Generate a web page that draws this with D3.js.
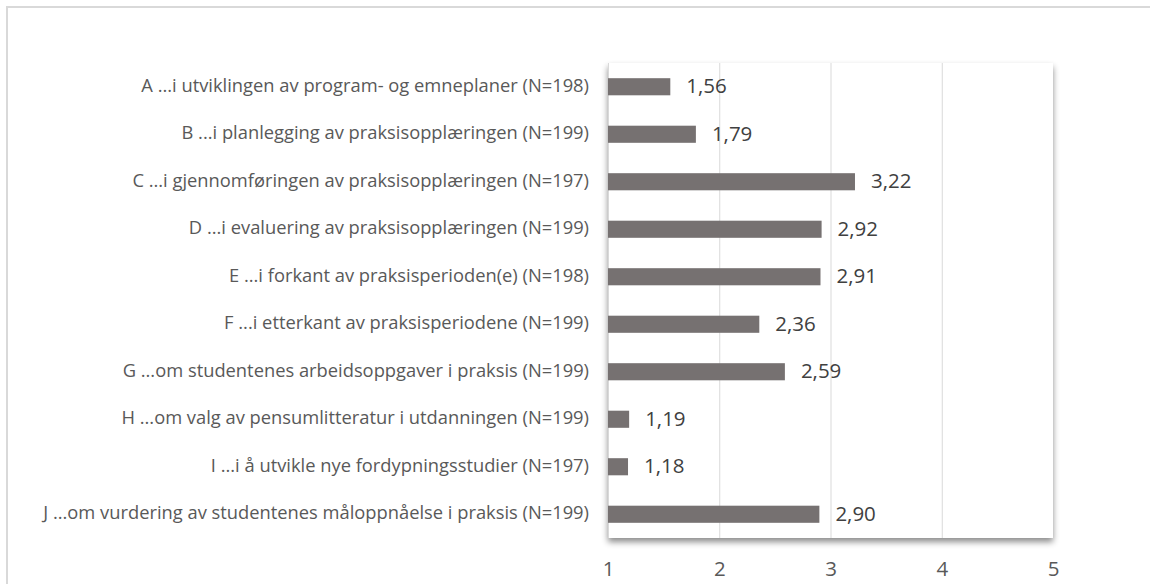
<!DOCTYPE html>
<html>
<head>
<meta charset="utf-8">
<script src="https://cdn.jsdelivr.net/npm/d3@7"></script>
<style>
  html, body { margin: 0; padding: 0; background: #fff; }
  svg { display: block; }
  text { font-family: "Open Sans", Lato, sans-serif; }
</style>
</head>
<body>
<svg id="chart" width="1150" height="584"></svg>
<script>
const categories = [
  "A ...i utviklingen av program- og emneplaner (N=198)",
  "B ...i planlegging av praksisopplæringen (N=199)",
  "C ...i gjennomføringen av praksisopplæringen (N=197)",
  "D ...i evaluering av praksisopplæringen (N=199)",
  "E ...i forkant av praksisperioden(e) (N=198)",
  "F ...i etterkant av praksisperiodene (N=199)",
  "G ...om studentenes arbeidsoppgaver i praksis (N=199)",
  "H ...om valg av pensumlitteratur i utdanningen (N=199)",
  "I ...i å utvikle nye fordypningsstudier (N=197)",
  "J ...om vurdering av studentenes måloppnåelse i praksis (N=199)"
];
const values = [1.56, 1.79, 3.22, 2.92, 2.91, 2.36, 2.59, 1.19, 1.18, 2.90];
const tickValues = [1, 2, 3, 4, 5];

const svg = d3.select("#chart");
const plot = { left: 608, right: 1053, top: 63, bottom: 538 };

const defs = svg.append("defs");
const f = defs.append("filter").attr("id", "shadow")
  .attr("x", "-5%").attr("y", "-5%").attr("width", "110%").attr("height", "115%");
f.append("feDropShadow").attr("dx", 0).attr("dy", 4).attr("stdDeviation", 3)
  .attr("flood-color", "#000").attr("flood-opacity", 0.45);

// outer chart border
svg.append("rect").attr("x", 0).attr("y", 0).attr("width", 1150).attr("height", 584).attr("fill", "#fff");
svg.append("rect").attr("x", 7).attr("y", 7).attr("width", 1300).attr("height", 800)
  .attr("fill", "none").attr("stroke", "#d9d9d9").attr("stroke-width", 2);

const x = d3.scaleLinear().domain([1, 5]).range([plot.left, plot.right]);
const y = d3.scaleBand().domain(categories).range([plot.top, plot.bottom])
  .paddingInner(0.64).paddingOuter(0.32);

// plot area with shadow
svg.append("rect")
  .attr("x", x(1)).attr("y", plot.top)
  .attr("width", x(5) - x(1)).attr("height", plot.bottom - plot.top)
  .attr("fill", "#fff").attr("filter", "url(#shadow)");

// gridlines
svg.append("g").selectAll("line").data(tickValues.slice(1, -1)).join("line")
  .attr("x1", d => x(d) + 0.5).attr("x2", d => x(d) + 0.5)
  .attr("y1", plot.top).attr("y2", plot.bottom)
  .attr("stroke", "#d9d9d9").attr("stroke-width", 1);

// left axis line
svg.append("line").attr("x1", x(1) + 0.5).attr("x2", x(1) + 0.5)
  .attr("y1", plot.top).attr("y2", plot.bottom)
  .attr("stroke", "#d9d9d9");

// bars
svg.append("g").selectAll("rect").data(values).join("rect")
  .attr("x", x(1))
  .attr("y", (d, i) => y(categories[i]))
  .attr("width", d => x(d) - x(1))
  .attr("height", y.bandwidth())
  .attr("fill", "#767171");

// data labels
const fmt = d => d3.format(".2f")(d).replace(".", ",");
svg.append("g").selectAll("text").data(values).join("text")
  .attr("x", d => x(d) + 16)
  .attr("y", (d, i) => y(categories[i]) + y.bandwidth() / 2 + 1)
  .attr("dominant-baseline", "middle")
  .attr("font-size", 20.5)
  .attr("fill", "#404040")
  .text(fmt);

// category labels
const catG = svg.append("g");
const cats = catG.selectAll("text").data(categories).join("text")
  .attr("x", 589)
  .attr("y", d => y(d) + y.bandwidth() / 2)
  .attr("text-anchor", "end")
  .attr("dominant-baseline", "middle")
  .attr("font-size", 17)
  .attr("fill", "#595959")
  .text(d => d);
// fit font size so the longest label spans like the reference
const longest = cats.nodes()[categories.length - 1];
const w = longest.getComputedTextLength();
const fs = Math.max(14, Math.min(19, 17 * 546 / w));
cats.attr("font-size", fs);

// x axis (labels only)
const xAxis = d3.axisBottom(x).tickValues(tickValues).tickSize(0).tickPadding(0)
  .tickFormat(d3.format("d"));
const gx = svg.append("g").attr("transform", `translate(0, 561)`).call(xAxis);
gx.select(".domain").remove();
gx.selectAll("text").attr("font-size", 20.5).attr("fill", "#595959")
  .attr("font-family", "'Open Sans', Lato, sans-serif");
</script>
</body>
</html>
